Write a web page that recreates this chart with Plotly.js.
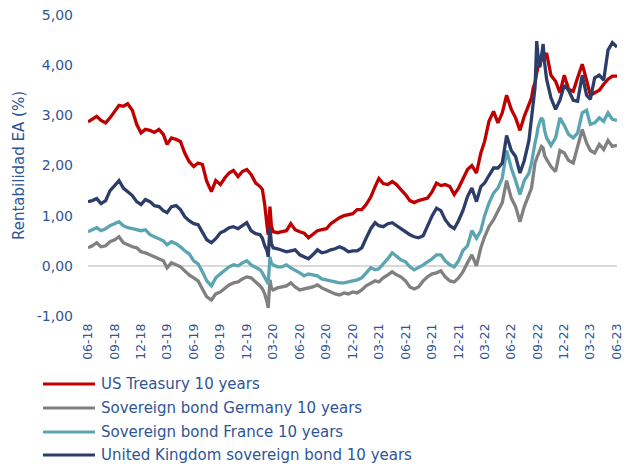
<!DOCTYPE html>
<html>
<head>
<meta charset="utf-8">
<script src="https://cdn.plot.ly/plotly-3.0.1.min.js"></script>
<style>
  html, body { margin: 0; padding: 0; background: #ffffff; }
  #chart { width: 629px; height: 464px; }
</style>
</head>
<body>
<div id="chart"></div>
<script>
// Observation dates (semi-monthly, denser around the 2020 and 2022 swings)
const dates = [
  "2018-06-01","2018-06-16","2018-07-01","2018-07-16","2018-08-01","2018-08-16","2018-09-01","2018-09-16",
  "2018-10-01","2018-10-16","2018-11-01","2018-11-16","2018-12-01","2018-12-16",
  "2019-01-01","2019-01-16","2019-02-01","2019-02-16","2019-03-01","2019-03-16","2019-04-01","2019-04-16",
  "2019-05-01","2019-05-16","2019-06-01","2019-06-16","2019-07-01","2019-07-16","2019-08-01","2019-08-16",
  "2019-09-01","2019-09-16","2019-10-01","2019-10-16","2019-11-01","2019-11-16","2019-12-01","2019-12-16",
  "2020-01-01","2020-01-16","2020-01-24","2020-02-01","2020-02-09","2020-02-13","2020-02-19","2020-02-24",
  "2020-03-01","2020-03-16","2020-04-01","2020-04-16","2020-05-01","2020-05-16","2020-06-01","2020-06-16",
  "2020-07-01","2020-07-16","2020-08-01","2020-08-16","2020-09-01","2020-09-16","2020-10-01","2020-10-16",
  "2020-11-01","2020-11-16","2020-12-01","2020-12-16",
  "2021-01-01","2021-01-16","2021-02-01","2021-02-16","2021-03-01","2021-03-16","2021-04-01","2021-04-16",
  "2021-05-01","2021-05-16","2021-06-01","2021-06-16","2021-07-01","2021-07-16","2021-08-01","2021-08-16",
  "2021-09-01","2021-09-16","2021-10-01","2021-10-16","2021-11-01","2021-11-16","2021-12-01","2021-12-16",
  "2022-01-01","2022-01-16","2022-02-01","2022-02-16","2022-03-01","2022-03-16","2022-04-01","2022-04-16",
  "2022-05-01","2022-05-16","2022-06-01","2022-06-16","2022-07-01","2022-07-16","2022-08-01","2022-08-10",
  "2022-08-16","2022-08-22","2022-08-28","2022-09-01","2022-09-08","2022-09-13","2022-09-19","2022-09-24",
  "2022-10-01","2022-10-16","2022-11-01","2022-11-16","2022-12-01","2022-12-16",
  "2023-01-01","2023-01-16","2023-02-01","2023-02-16","2023-03-01","2023-03-16","2023-04-01","2023-04-16",
  "2023-05-01","2023-05-16","2023-06-01"
];

// 10-year yields, %
const usTreasury = [
  2.87,2.92,2.98,2.90,2.85,2.95,3.08,3.20,3.18,3.23,3.10,2.82,2.65,2.72,
  2.70,2.66,2.72,2.62,2.42,2.55,2.52,2.48,2.25,2.08,1.98,2.05,2.02,1.68,1.48,1.70,1.62,1.75,1.85,1.90,1.78,1.88,1.92,1.82,
  1.65,1.58,1.52,1.22,0.80,0.62,1.18,0.80,0.68,0.66,0.68,0.70,0.84,0.72,0.68,0.65,0.56,0.62,0.70,0.72,0.74,0.84,0.90,0.96,1.00,1.02,1.04,1.12,
  1.12,1.22,1.37,1.58,1.74,1.64,1.62,1.68,1.62,1.52,1.42,1.30,1.26,1.30,1.33,1.35,1.48,1.65,1.60,1.62,1.58,1.42,1.55,1.72,
  1.92,2.00,1.85,2.25,2.48,2.88,3.08,2.85,3.05,3.40,3.12,2.95,2.70,2.98,3.22,3.35,3.55,3.65,3.85,3.95,4.04,4.10,4.12,4.16,4.24,3.80,3.68,3.45,3.80,3.52,
  3.48,3.75,4.02,3.70,3.40,3.45,3.50,3.62,3.72,3.78,3.78
];

const germany = [
  0.36,0.40,0.46,0.38,0.40,0.48,0.52,0.58,0.46,0.42,0.38,0.36,0.28,0.26,
  0.22,0.18,0.14,0.10,-0.04,0.06,0.02,-0.02,-0.10,-0.18,-0.24,-0.30,-0.46,-0.62,-0.68,-0.56,-0.52,-0.44,-0.38,-0.34,-0.32,-0.26,-0.22,-0.24,
  -0.32,-0.40,-0.46,-0.56,-0.72,-0.84,-0.28,-0.44,-0.48,-0.44,-0.42,-0.40,-0.34,-0.42,-0.48,-0.46,-0.44,-0.42,-0.38,-0.44,-0.48,-0.52,-0.56,-0.58,-0.54,-0.56,-0.52,-0.54,
  -0.48,-0.40,-0.34,-0.30,-0.32,-0.24,-0.18,-0.12,-0.18,-0.22,-0.30,-0.42,-0.46,-0.42,-0.30,-0.22,-0.16,-0.14,-0.10,-0.22,-0.30,-0.32,-0.24,-0.12,
  0.06,0.22,0.00,0.36,0.58,0.78,0.92,1.10,1.26,1.70,1.35,1.18,0.88,1.18,1.40,1.55,1.80,2.05,2.15,2.22,2.30,2.38,2.35,2.20,2.12,1.98,1.88,2.30,2.25,2.10,
  2.05,2.40,2.72,2.45,2.30,2.25,2.42,2.32,2.50,2.38,2.40
];

const france = [
  0.68,0.72,0.76,0.70,0.74,0.80,0.84,0.88,0.80,0.76,0.74,0.72,0.70,0.72,
  0.62,0.58,0.54,0.50,0.42,0.48,0.44,0.38,0.30,0.24,0.10,0.04,-0.12,-0.30,-0.40,-0.24,-0.16,-0.08,-0.02,0.02,0.00,0.06,0.10,0.02,
  -0.04,-0.08,-0.14,-0.22,-0.32,-0.36,0.18,0.06,0.02,-0.02,-0.02,0.02,-0.04,-0.08,-0.14,-0.20,-0.16,-0.18,-0.20,-0.26,-0.28,-0.30,-0.32,-0.34,-0.34,-0.32,-0.30,-0.28,
  -0.24,-0.14,-0.04,-0.08,-0.06,0.04,0.14,0.26,0.18,0.12,0.08,-0.02,-0.08,-0.04,0.02,0.08,0.14,0.22,0.22,0.10,0.02,-0.02,0.10,0.30,
  0.40,0.70,0.55,0.70,1.00,1.25,1.45,1.55,1.75,2.30,1.95,1.70,1.42,1.70,1.85,2.05,2.30,2.45,2.60,2.75,2.88,2.95,2.90,2.70,2.55,2.40,2.55,2.95,2.80,2.62,
  2.55,2.65,3.05,3.10,2.82,2.85,2.95,2.88,3.05,2.92,2.90
];

const unitedKingdom = [
  1.28,1.30,1.34,1.24,1.30,1.50,1.60,1.70,1.55,1.47,1.40,1.28,1.22,1.32,
  1.28,1.20,1.18,1.10,1.06,1.18,1.20,1.12,0.98,0.90,0.84,0.82,0.68,0.52,0.46,0.54,0.66,0.70,0.76,0.78,0.74,0.80,0.86,0.70,
  0.64,0.62,0.55,0.40,0.30,0.18,0.76,0.45,0.36,0.34,0.30,0.28,0.30,0.32,0.22,0.18,0.14,0.22,0.32,0.26,0.28,0.32,0.34,0.38,0.34,0.28,0.30,0.30,
  0.36,0.55,0.74,0.86,0.80,0.78,0.84,0.86,0.80,0.76,0.68,0.62,0.58,0.56,0.60,0.80,1.00,1.15,1.10,0.92,0.80,0.74,0.90,1.10,
  1.38,1.55,1.28,1.58,1.65,1.80,1.95,1.95,2.05,2.60,2.30,2.18,1.85,2.10,2.50,2.95,3.25,3.55,4.48,4.20,3.96,4.15,4.42,4.05,3.72,3.35,3.12,3.30,3.60,3.50,
  3.30,3.28,3.80,3.40,3.32,3.75,3.80,3.70,4.30,4.45,4.36
];

const seriesNames = [
  "US Treasury 10 years",
  "Sovereign bond Germany 10 years",
  "Sovereign bond France 10 years",
  "United Kingdom sovereign bond 10 years"
];
const seriesValues = [usTreasury, germany, france, unitedKingdom];
const seriesColors = ["#C00000", "#808080", "#5BA5B2", "#2C3D6A"];

const yTickVals = [-1, 0, 1, 2, 3, 4, 5];
const yTickText = ["-1,00", "0,00", "1,00", "2,00", "3,00", "4,00", "5,00"];

const textBlue = "#2F5597";
const fontFamily = "DejaVu Sans, sans-serif";

// Page geometry (pixels)
const W = 629, H = 464;
const margin = { l: 88, r: 12, t: 15, b: 148 };
const plotW = W - margin.l - margin.r;
const plotH = H - margin.t - margin.b;
const toPaperX = px => (px - margin.l) / plotW;
const toPaperY = py => (H - margin.b - py) / plotH;

const traces = seriesNames.map((name, i) => ({
  type: "scatter",
  mode: "lines",
  name: name,
  x: dates,
  y: seriesValues[i],
  line: { color: seriesColors[i], width: 3.3 },
  hoverinfo: "skip"
}));

// Legend below the axis: a line sample and a label per series
const legendRowY = [384, 408, 432, 455];
const legendShapes = seriesNames.map((name, i) => ({
  type: "line",
  xref: "paper", yref: "paper",
  x0: toPaperX(43), x1: toPaperX(95),
  y0: toPaperY(legendRowY[i]), y1: toPaperY(legendRowY[i]),
  line: { color: seriesColors[i], width: 3 }
}));
const legendLabels = seriesNames.map((name, i) => ({
  xref: "paper", yref: "paper",
  x: toPaperX(99), y: toPaperY(legendRowY[i]),
  xanchor: "left", yanchor: "middle",
  text: name,
  showarrow: false,
  font: { size: 15, color: textBlue, family: fontFamily }
}));

const layout = {
  width: W,
  height: H,
  margin: margin,
  paper_bgcolor: "#ffffff",
  plot_bgcolor: "#ffffff",
  showlegend: false,
  font: { family: fontFamily, color: textBlue },
  xaxis: {
    type: "date",
    range: ["2018-06-01", "2023-06-01"],
    tick0: "2018-06-01",
    dtick: "M3",
    tickformat: "%m-%y",
    tickangle: -90,
    tickfont: { size: 12.5, color: textBlue, family: fontFamily },
    showgrid: false,
    zeroline: false,
    showline: false,
    ticks: "",
    ticklabelstandoff: 4
  },
  yaxis: {
    range: [-1, 5],
    tickvals: yTickVals,
    ticktext: yTickText,
    tickfont: { size: 14, color: textBlue, family: fontFamily },
    showgrid: false,
    zeroline: true,
    zerolinecolor: "#D9D9D9",
    zerolinewidth: 2,
    showline: false,
    ticks: "",
    ticklabelstandoff: 14,
    title: { text: "Rentabilidad EA (%)", font: { size: 15, color: textBlue, family: fontFamily }, standoff: 8 }
  },
  shapes: legendShapes,
  annotations: legendLabels
};

Plotly.newPlot("chart", traces, layout, { staticPlot: true, displayModeBar: false });
</script>
</body>
</html>
